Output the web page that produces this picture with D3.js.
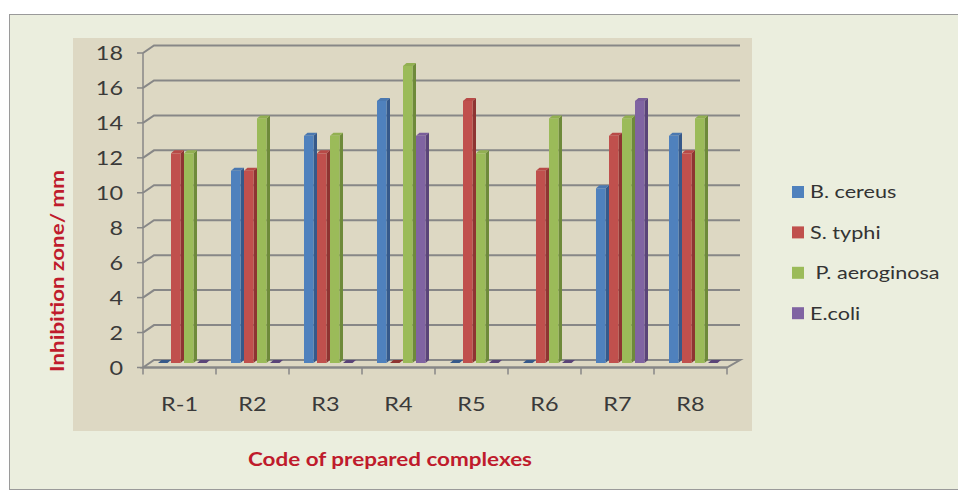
<!DOCTYPE html>
<html><head><meta charset="utf-8">
<script src="https://cdn.jsdelivr.net/npm/d3@7"></script>
<style>html,body{margin:0;padding:0;background:#fff;}svg{display:block;}</style>
</head><body>
<svg id="c" width="958" height="490"></svg>
<script>
const categories = ["R-1","R2","R3","R4","R5","R6","R7","R8"];
const seriesNames = ["B. cereus","S. typhi","P. aeroginosa","E.coli"];
const legendLabels = ["B. cereus","S. typhi"," P. aeroginosa","E.coli"];
const bCereus    = [0, 11, 13, 15, 0, 0, 10, 13];
const sTyphi     = [12, 11, 12, 0, 15, 11, 13, 12];
const pAeroginosa= [12, 14, 13, 17, 12, 14, 14, 14];
const eColi      = [0, 0, 0, 13, 0, 0, 15, 0];
const yTicks = [0,2,4,6,8,10,12,14,16,18];
const colors = ["#4F81BD","#C0504D","#9BBB59","#8064A2"];
const sideColors = ["#36598A","#8E3432","#6E8A3A","#5A4478"];
const topColors = ["#4A78B0","#B84A47","#92B052","#7A5E9A"];

const seriesValues = [bCereus, sTyphi, pAeroginosa, eColi];

const svg = d3.select("#c");
const font = "Lato, 'Open Sans', sans-serif";

function stretch(sel, factor) {
  sel.each(function(){
    const L = this.getComputedTextLength();
    d3.select(this).attr("textLength", L*factor).attr("lengthAdjust","spacingAndGlyphs");
  });
}
function fitTo(sel, target) {
  sel.attr("textLength", target).attr("lengthAdjust","spacingAndGlyphs");
}

// outer frame
svg.append("rect").attr("x",9.5).attr("y",14.5).attr("width",960).attr("height",475)
  .attr("fill","#EBEEDE").attr("stroke","#9a9a9a").attr("stroke-width",1);
// plot area
svg.append("rect").attr("x",73).attr("y",38).attr("width",679).attr("height",393)
  .attr("fill","#DDD8C3");

const x = d3.scaleBand().domain(categories).range([143,727]).paddingInner(0).paddingOuter(0);
const xs = d3.scaleBand().domain(seriesNames).range([15,67]).padding(0);
const y = d3.scaleLinear().domain([0,18]).range([367.5,53]);
const DX = 11, DY = -7.5;   // depth of the back wall
const BX = 4, BY = -4.5;    // bar mid-depth shift
const SX = 3.5, SY = -3;    // bar own depth

const grid = svg.append("g").attr("fill","none").attr("stroke","#878787").attr("stroke-width",2);
yTicks.forEach(t=>{
  const yy = y(t);
  if (t>0) {
    grid.append("path").attr("d",`M143,${yy}L${143+DX},${yy+DY}L${727+13},${yy+DY}`);
  }
});
grid.append("path").attr("d",`M143,${y(0)}L${143+DX},${y(0)+DY}L${727+13},${y(0)+DY}L727,${y(0)}Z`);

// axes
const ax = svg.append("g").attr("stroke","#878787").attr("stroke-width",1.5).attr("fill","none");
ax.append("line").attr("x1",143).attr("x2",143).attr("y1",y(18)).attr("y2",y(0));
yTicks.forEach(t=>{
  ax.append("line").attr("x1",137).attr("x2",143).attr("y1",y(t)).attr("y2",y(t));
});
ax.append("line").attr("x1",143).attr("x2",727).attr("y1",y(0)).attr("y2",y(0)).attr("stroke-width",2);
categories.concat(["_end"]).forEach((c,i)=>{
  const xx = 143 + i*x.bandwidth();
  ax.append("line").attr("x1",xx).attr("x2",xx).attr("y1",y(0)).attr("y2",y(0)+7);
});

// y tick labels
const yl = svg.append("g").selectAll("text").data(yTicks).join("text")
  .attr("x",123).attr("y",d=>y(d)).attr("dy","0.36em").attr("text-anchor","end")
  .attr("font-family",font).attr("font-size",19.5).attr("fill","#3a3a3a").text(d=>d);
stretch(yl, 1.2);
// x tick labels
const xl = svg.append("g").selectAll("text").data(categories).join("text")
  .attr("x",d=>x(d)+x.bandwidth()/2).attr("y",411).attr("text-anchor","middle")
  .attr("font-family",font).attr("font-size",19.5).attr("fill","#3a3a3a").text(d=>d);
stretch(xl, 1.2);

// bars
const bars = svg.append("g");
const barData = [];
categories.forEach((c,ci)=>{
  seriesNames.forEach((s,si)=>{
    barData.push({c, s, si, v: seriesValues[si][ci]});
  });
});
barData.forEach(d=>{
  const x0 = x(d.c) + xs(d.s);
  const w = xs.bandwidth() - SX;
  const yb = y(0) + BY, yt = y(d.v) + BY;
  bars.append("path").attr("d",`M${x0+w},${yb}L${x0+w+SX},${yb+SY}L${x0+w+SX},${yt+SY}L${x0+w},${yt}Z`)
    .attr("fill",sideColors[d.si]);
  bars.append("rect").attr("x",x0).attr("y",yt).attr("width",w).attr("height",Math.max(0,yb-yt))
    .attr("fill",colors[d.si]);
  bars.append("path").attr("d",`M${x0},${yt}L${x0+SX},${yt+SY}L${x0+w+SX},${yt+SY}L${x0+w},${yt}Z`)
    .attr("fill", d.v===0 ? sideColors[d.si] : topColors[d.si]);
});

// legend
const lg = svg.append("g");
legendLabels.forEach((l,i)=>{
  const cy = 192 + i*40.4;
  lg.append("rect").attr("x",792).attr("y",cy-6).attr("width",12).attr("height",12).attr("fill",colors[i]);
  const t = lg.append("text").attr("x",810).attr("y",cy).attr("dy","0.36em").attr("font-family",font)
    .attr("font-size",18).attr("fill","#333").style("white-space","pre").text(l);
  stretch(t, 1.2);
});

// axis titles
const yt = svg.append("text").attr("transform","translate(64,271) rotate(-90)").attr("text-anchor","middle")
  .attr("font-family",font).attr("font-weight","bold").attr("font-size",18.5).attr("fill","#BF1B2C")
  .text("Inhibition zone/ mm");
fitTo(yt, 202);
const xt = svg.append("text").attr("x",390).attr("y",466).attr("text-anchor","middle")
  .attr("font-family",font).attr("font-weight","bold").attr("font-size",19).attr("fill","#BF1B2C")
  .text("Code of prepared complexes");
fitTo(xt, 284);
</script>
</body></html>
